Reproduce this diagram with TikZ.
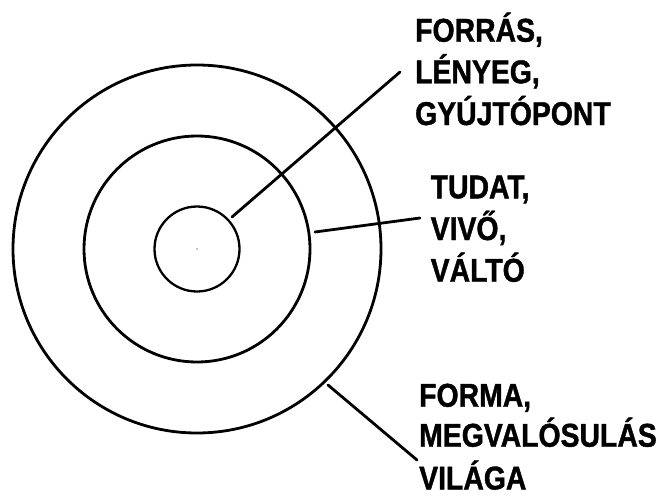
\documentclass[tikz,border=0pt]{standalone}
\usepackage{fontspec}
\newfontfamily\labfont{Liberation Sans Bold}[FakeStretch=0.86,FakeBold=1.2]
\begin{document}
\begin{tikzpicture}[x=1pt,y=1pt,
  ring/.style={circle,draw,line width=2.8pt,inner sep=0pt},
  conn/.style={line width=2.8pt,line cap=round},
  lab/.style={anchor=base west,inner sep=0pt,font=\labfont\fontsize{33}{42}\selectfont}]
\useasboundingbox (0,0) rectangle (666,-495);
\coordinate (c) at (197,-249);
\node[ring,minimum size=368pt] (outer) at (c) {};
\node[ring,minimum size=226pt] (middle) at (c) {};
\node[ring,line width=2.3pt,minimum size=85pt] (inner) at (c) {};
\fill (c) circle (0.6pt);
% labels
\node[lab] (f1) at (415,-41.7) {FORRÁS,};
\node[lab] (f2) at (415,-83.3) {LÉNYEG,};
\node[lab] (f3) at (415,-125) {GYÚJTÓPONT};
\node[lab] (t1) at (430.5,-198.3) {TUDAT,};
\node[lab] (t2) at (430.5,-240) {VIVŐ,};
\node[lab] (t3) at (430.5,-281.7) {VÁLTÓ};
\node[lab] (m1) at (419,-406.7) {FORMA,};
\node[lab] (m2) at (419,-446.7) {MEGVALÓSULÁS};
\node[lab] (m3) at (419,-489.5) {VILÁGA};
% connectors
\coordinate (a1) at (232,-217);
\coordinate (a2) at (400,-72);
\coordinate (b1) at (315,-232);
\coordinate (b2) at (420,-218);
\coordinate (d1) at (328,-385);
\coordinate (d2) at (417,-460);
\draw[conn] (a1) -- (a2);
\draw[conn] (b1) -- (b2);
\draw[conn] (d1) -- (d2);
\end{tikzpicture}
\end{document}
